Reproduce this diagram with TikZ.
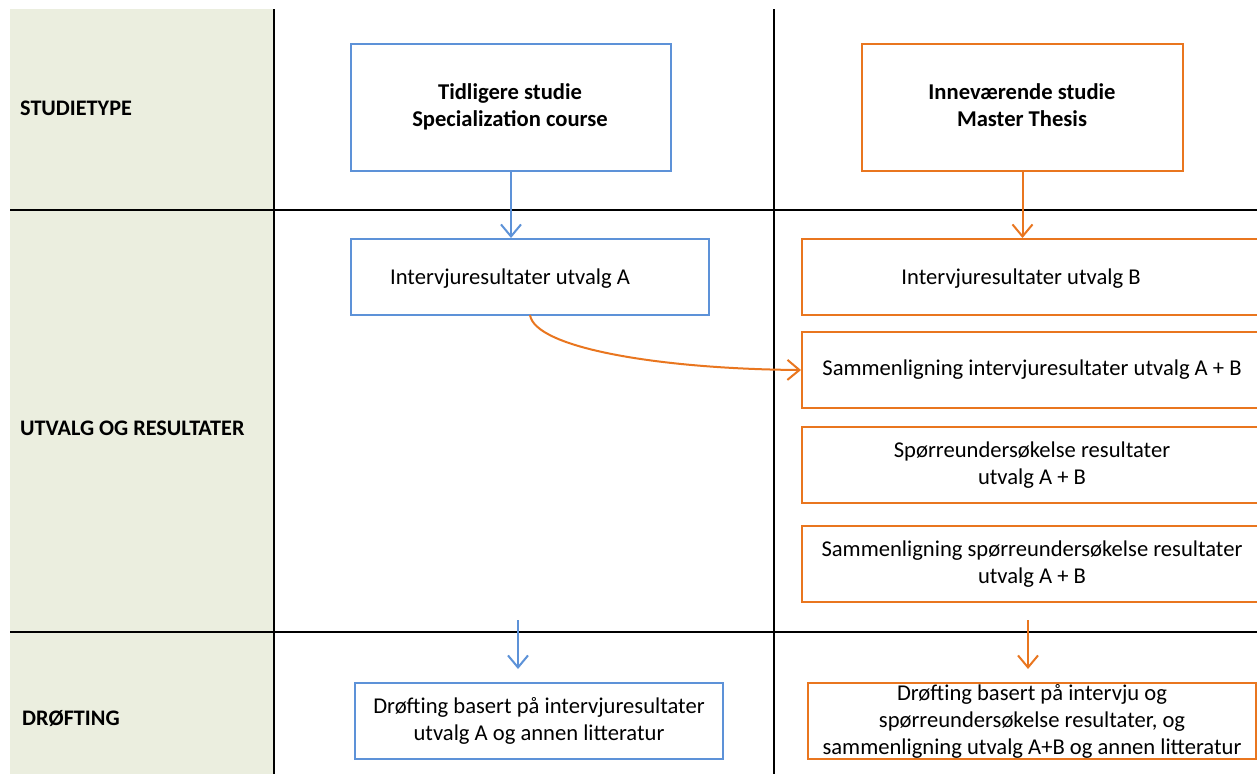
\documentclass[tikz,border=0pt]{standalone}
\usepackage{fontspec}
\setmainfont{Carlito}
\usetikzlibrary{arrows.meta}
\definecolor{boxblue}{HTML}{5D92D8}
\definecolor{boxorange}{HTML}{E9761F}
\definecolor{panel}{HTML}{EBEEDF}
\tikzset{
  body/.style={font=\fontsize{22.6}{27}\selectfont, align=center, inner sep=0pt},
  boxbase/.style={body, draw, line width=2pt, fill=white},
  bluebox/.style={boxbase, draw=boxblue},
  orangebox/.style={boxbase, draw=boxorange},
  rowlabel/.style={font=\fontsize{22.2}{26}\selectfont\bfseries, anchor=west, inner sep=0pt},
  grid/.style={line width=2.5pt, black},
  flow/.style={line width=2pt, -{Straight Barb[length=12pt,width=20pt,line width=2pt]}},
}
\begin{document}
\begin{tikzpicture}[x=1pt,y=-1pt]
  \useasboundingbox (0,0) rectangle (1257,774);
  \clip (0,0) rectangle (1257,774);
  \fill[white] (0,0) rectangle (1257,774);

  % header column
  \fill[panel] (10,9) rectangle (274,774);
  \draw[grid] (274,9) -- (274,774);
  \draw[grid] (774,9) -- (774,774);
  \draw[grid] (10,210) -- (1257,210);
  \draw[grid] (10,632) -- (1257,632);

  \node[rowlabel] (lstudie) at (20,108) {STUDIETYPE};
  \node[rowlabel] (lutvalg) at (20,428) {UTVALG OG RESULTATER};
  \node[rowlabel] (ldrofting) at (22,719) {DRØFTING};

  % study type
  \node[bluebox, minimum width=320, minimum height=127] (tidl) at (511,107.5) {};
  \node[body] (tidltxt) at (510,107) {\bfseries Tidligere studie\\\bfseries Specialization course};
  \node[orangebox, minimum width=321, minimum height=127] (innev) at (1022.5,107.5) {};
  \node[body] (innevtxt) at (1022,105) {\bfseries Inneværende studie\\\bfseries Master Thesis};

  % samples and results
  \node[bluebox, minimum width=358, minimum height=76] (resA) at (530,277) {};
  \node[body] (resAtxt) at (510,279) {Intervjuresultater utvalg A};
  \node[orangebox, minimum width=460, minimum height=76] (resB) at (1032,277) {};
  \node[body] (resBtxt) at (1021,279) {Intervjuresultater utvalg B};
  \node[orangebox, minimum width=460, minimum height=76] (cmpInt) at (1032,370)
    {Sammenligning intervjuresultater utvalg A + B};
  \node[orangebox, minimum width=460, minimum height=76] (survey) at (1032,465)
    {Spørreundersøkelse resultater\\utvalg A + B};
  \node[orangebox, minimum width=460, minimum height=76] (cmpSurv) at (1032,564)
    {Sammenligning spørreundersøkelse resultater\\utvalg A + B};

  % discussion
  \node[bluebox, minimum width=368, minimum height=76] (discA) at (539,721)
    {Drøfting basert på intervjuresultater\\utvalg A og annen litteratur};
  \node[orangebox, minimum width=448, minimum height=76] (discB) at (1032,721)
    {Drøfting basert på intervju og\\spørreundersøkelse resultater, og\\sammenligning utvalg A+B og annen litteratur};

  % connectors
  \draw[flow, boxblue] (tidl.south) -- (tidl.south |- resA.north);
  \draw[flow, boxorange] (innev.south) -- (innev.south |- resB.north);
  \draw[flow, boxorange] (530,315) .. controls (535,348) and (660,369) .. (cmpInt.west);

  \coordinate (blueStart) at (518,620);
  \coordinate (blueEnd) at (518,669);
  \coordinate (orangeStart) at (1028,620);
  \coordinate (orangeEnd) at (1028,669);
  \draw[flow, boxblue] (blueStart) -- (blueEnd);
  \draw[flow, boxorange] (orangeStart) -- (orangeEnd);
\end{tikzpicture}
\end{document}
